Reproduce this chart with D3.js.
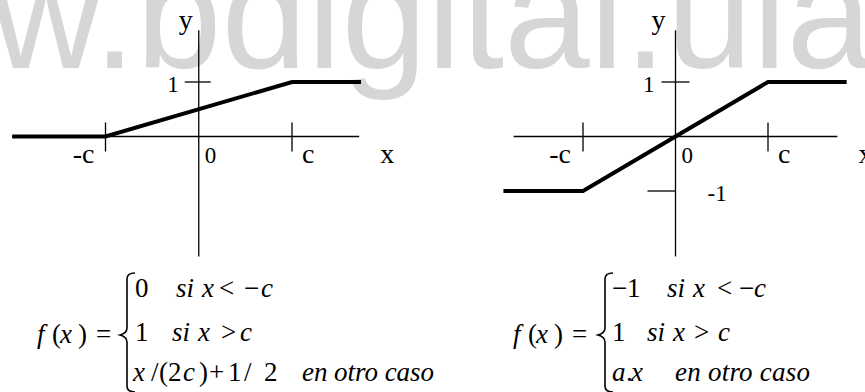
<!DOCTYPE html>
<html>
<head>
<meta charset="utf-8">
<script src="https://cdn.jsdelivr.net/npm/d3@7"></script>
<style>
  html, body { margin: 0; padding: 0; background: #fff; overflow: hidden; }
  svg { display: block; }
</style>
</head>
<body>
<svg id="chart" width="865" height="392"></svg>
<script>
// Unipolar ramp: 0 below -c, 1 above c, linear in between (x in units of c)
const rampX = [-2.0, -1, 1, 1.74];
const rampY = [0, 0, 1, 1];
// Bipolar ramp: -1 below -c, 1 above c, slope a in between
const satX = [-1.86, -1, 1, 1.85];
const satY = [-1, -1, 1, 1];

// Tick marks and their labels
const xTickValues = [-1, 1];
const xTickLabels = ["-c", "c"];
const rampYTicks = [1];
const rampYTickLabels = ["1"];
const satYTicks = [1, -1];
const satYTickLabels = ["1", "-1"];

const SERIF = "'Liberation Serif', 'Times New Roman', 'DejaVu Serif', serif";
const svg = d3.select("#chart");

// Site watermark behind everything
svg.append("text")
  .attr("x", -232).attr("y", 68)
  .attr("font-family", "'Liberation Sans', Arial, sans-serif")
  .attr("font-size", 154)
  .attr("fill", "#d6d6d6")
  .text("www.bdigital.ula.ve");

function label(g, size, italic) {
  return g.append("text")
    .attr("font-family", SERIF)
    .attr("font-size", size)
    .attr("font-style", italic ? "italic" : "normal")
    .attr("fill", "#000");
}

function drawPanel(cfg) {
  const x = d3.scaleLinear().domain([-1, 1]).range(cfg.xRange);
  const y = d3.scaleLinear().domain([0, 1]).range(cfg.yRange);
  const g = svg.append("g");
  const x0 = x(0), y0 = y(0);

  // Axes
  g.append("line")
    .attr("x1", x(cfg.axisX[0])).attr("x2", x(cfg.axisX[1]))
    .attr("y1", y0).attr("y2", y0)
    .attr("stroke", "#000").attr("stroke-width", 1.3);
  g.append("line")
    .attr("x1", x0).attr("x2", x0)
    .attr("y1", y(cfg.axisY[0])).attr("y2", y(cfg.axisY[1]))
    .attr("stroke", "#000").attr("stroke-width", 1.3);

  // x ticks cross the axis
  g.selectAll(".xt").data(xTickValues).enter().append("line")
    .attr("x1", d => x(d)).attr("x2", d => x(d))
    .attr("y1", y0 - 14).attr("y2", y0 + 15)
    .attr("stroke", "#000").attr("stroke-width", 1.3);

  // y ticks
  g.selectAll(".yt").data(cfg.yTicks).enter().append("line")
    .attr("x1", (d, i) => x0 + cfg.yTickExtent[i][0])
    .attr("x2", (d, i) => x0 + cfg.yTickExtent[i][1])
    .attr("y1", d => y(d)).attr("y2", d => y(d))
    .attr("stroke", "#000").attr("stroke-width", 1.3);

  // Transfer function
  const line = d3.line().x(d => x(d[0])).y(d => y(d[1]));
  g.append("path")
    .datum(cfg.xs.map((v, i) => [v, cfg.ys[i]]))
    .attr("d", line)
    .attr("fill", "none").attr("stroke", "#000")
    .attr("stroke-width", 4).attr("stroke-linejoin", "miter");

  // Tick labels
  xTickValues.forEach((d, i) => {
    label(g, 28)
      .attr("x", i === 0 ? x(d) - cfg.xLabelGap[0] : x(d) + cfg.xLabelGap[1])
      .attr("text-anchor", i === 0 ? "end" : "start")
      .attr("y", y0 + 26)
      .text(xTickLabels[i]);
  });
  cfg.yTicks.forEach((d, i) => {
    const p = cfg.yLabelPos[i];
    label(g, 23)
      .attr("x", x0 + p[0]).attr("y", y(d) + p[1])
      .attr("text-anchor", p[2])
      .text(cfg.yTickLabels[i]);
  });

  label(g, 23).attr("x", x0 + 6).attr("y", y0 + 26).text("0");
  label(g, 28).attr("x", x(cfg.axisX[1]) + 21).attr("y", y0 + 26).text("x");
  label(g, 28).attr("text-anchor", "middle")
    .attr("x", x0 + cfg.yNameDx).attr("y", 29).text("y");
}

drawPanel({
  xRange: [105.5, 292], yRange: [136.5, 82],
  axisX: [-2.0, 1.72], axisY: [-2.2, 1.95],
  xs: rampX, ys: rampY,
  yTicks: rampYTicks, yTickLabels: rampYTickLabels,
  yTickExtent: [[-14, 12]],
  yLabelPos: [[-20, 10, "end"]],
  xLabelGap: [11, 10],
  yNameDx: -13
});

drawPanel({
  xRange: [583, 768], yRange: [136.5, 82],
  axisX: [-1.75, 1.75], axisY: [-2.2, 1.95],
  xs: satX, ys: satY,
  yTicks: satYTicks, yTickLabels: satYTickLabels,
  yTickExtent: [[-14, 14], [-28, 0]],
  yLabelPos: [[-21, 10, "end"], [32, 10, "start"]],
  xLabelGap: [12, 10],
  yNameDx: -17
});

// Piecewise definitions written under each panel
function put(pieces, dx) {
  pieces.forEach(p => {
    const t = label(svg, 27, p[3])
      .attr("x", p[1] + dx).attr("y", p[2])
      .text(p[0]);
    if (p[4]) t.attr("textLength", p[4]).attr("lengthAdjust", "spacing");
  });
}

function brace(x, tip) {
  const p = d3.path();
  p.moveTo(x + 8, 273);
  p.quadraticCurveTo(x, 273, x, 279);
  p.lineTo(x, 328);
  p.quadraticCurveTo(x, 333, tip, 335);
  p.quadraticCurveTo(x, 337, x, 342);
  p.lineTo(x, 386);
  p.quadraticCurveTo(x, 392, x + 8, 392);
  svg.append("path").attr("d", p.toString())
    .attr("fill", "none").attr("stroke", "#000").attr("stroke-width", 1.6);
}

const lhs = [["f", 37, 343, true], ["(", 52, 343], ["x", 60, 343, true], [")", 78, 343], ["=", 96, 343]];

put(lhs, 0);
brace(127, 120);
put([
  ["0", 135, 297], ["si", 176, 297, true], ["x", 202, 297, true], ["<", 219, 297], ["\u2212", 244, 297], ["c", 261, 297, true],
  ["1", 135, 341], ["si", 172, 341, true], ["x", 198, 341, true], [">", 221, 341], ["c", 240, 341, true],
  ["x", 133, 381, true], ["/", 151, 381], ["(", 159, 381], ["2", 168, 381], ["c", 183, 381, true], [")", 199, 381],
  ["+", 209, 381], ["1", 228, 381], ["/", 244, 381], ["2", 264, 381],
  ["en otro caso", 302, 381, true, 132]
], 0);

put(lhs, 476);
brace(605, 598);
put([
  ["\u2212", 612, 297], ["1", 627, 297], ["si", 667, 297, true], ["x", 693, 297, true], ["<", 717, 297], ["\u2212", 739, 297], ["c", 754, 297, true],
  ["1", 612, 341], ["si", 647, 341, true], ["x", 673, 341, true], [">", 694, 341], ["c", 718, 341, true],
  ["a", 612, 381, true], [".", 626, 381], ["x", 631, 381, true],
  ["en otro caso", 675, 381, true, 135]
], 0);
</script>
</body>
</html>
